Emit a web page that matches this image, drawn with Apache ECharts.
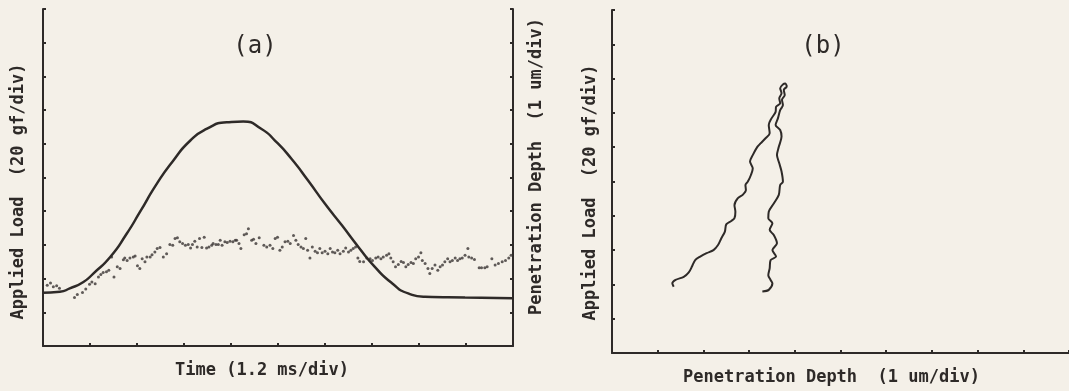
<!DOCTYPE html>
<html>
<head>
<meta charset="UTF-8">
<title>Load and penetration traces</title>
<script src="https://cdn.jsdelivr.net/npm/echarts@6/dist/echarts.min.js"></script>
<style>
  * { margin: 0; padding: 0; }
  body { background: #f4f0e8; }
  #chart { width: 1069px; height: 391px; }
</style>
</head>
<body>
<div id="chart"></div>
<script>
// (a) applied load vs time, in divisions
const loadT = [0.0, 0.36, 0.57, 0.86, 1.07, 1.43, 1.78, 2.06, 2.42, 2.77, 3.13, 3.48, 3.91, 4.26, 4.65, 4.94, 5.29, 5.64, 6.0, 6.36, 6.71, 7.06, 7.42, 7.77, 8.13, 8.98, 10.0];
const loadV = [1.58, 1.61, 1.71, 1.90, 2.15, 2.64, 3.33, 3.97, 4.81, 5.50, 6.09, 6.44, 6.64, 6.66, 6.44, 6.09, 5.55, 4.91, 4.22, 3.58, 2.94, 2.35, 1.87, 1.56, 1.46, 1.44, 1.42];

// (a) penetration depth samples (dots)
const depthT = [0.09, 0.16, 0.22, 0.29, 0.35, 0.67, 0.73, 0.84, 0.91, 0.99, 1.04, 1.11, 1.18, 1.23, 1.28, 1.35, 1.40, 1.46, 1.51, 1.58,
  1.64, 1.71, 1.74, 1.79, 1.85, 1.92, 1.96, 2.01, 2.06, 2.11, 2.17, 2.21, 2.28, 2.32, 2.38, 2.43, 2.49, 2.56, 2.63, 2.70,
  2.76, 2.81, 2.86, 2.91, 2.97, 3.03, 3.09, 3.14, 3.18, 3.23, 3.28, 3.33, 3.38, 3.43, 3.48, 3.53, 3.59, 3.62, 3.68, 3.73,
  3.77, 3.81, 3.87, 3.92, 3.98, 4.04, 4.09, 4.12, 4.17, 4.21, 4.28, 4.33, 4.37, 4.44, 4.48, 4.53, 4.60, 4.70, 4.76, 4.83,
  4.89, 4.94, 4.99, 5.04, 5.09, 5.15, 5.21, 5.26, 5.33, 5.38, 5.43, 5.49, 5.54, 5.59, 5.63, 5.68, 5.73, 5.79, 5.84, 5.89,
  5.94, 6.00, 6.06, 6.11, 6.16, 6.21, 6.27, 6.32, 6.39, 6.44, 6.50, 6.55, 6.60, 6.65, 6.70, 6.74, 6.82, 6.89, 6.96, 7.01,
  7.08, 7.13, 7.19, 7.24, 7.31, 7.36, 7.40, 7.45, 7.50, 7.56, 7.62, 7.67, 7.72, 7.77, 7.83, 7.88, 7.93, 7.99, 8.04, 8.07,
  8.13, 8.19, 8.23, 8.28, 8.34, 8.40, 8.45, 8.50, 8.55, 8.61, 8.66, 8.71, 8.77, 8.82, 8.87, 8.92, 8.98, 9.04, 9.06, 9.12,
  9.18, 9.28, 9.33, 9.40, 9.45, 9.55, 9.62, 9.69, 9.77, 9.84, 9.91, 9.96];
const depthV = [1.80, 1.87, 1.76, 1.79, 1.71, 1.44, 1.53, 1.59, 1.69, 1.83, 1.90, 1.85, 2.05, 2.12, 2.18, 2.20, 2.25, 2.64, 2.05, 2.35,
  2.30, 2.56, 2.61, 2.54, 2.61, 2.64, 2.67, 2.38, 2.30, 2.59, 2.50, 2.64, 2.64, 2.71, 2.79, 2.89, 2.92, 2.64, 2.74, 3.01,
  2.99, 3.19, 3.21, 3.09, 3.04, 2.99, 3.01, 2.91, 3.01, 3.11, 2.94, 3.19, 2.92, 3.23, 2.91, 2.94, 2.99, 3.04, 3.01, 3.01,
  3.14, 2.99, 3.09, 3.07, 3.11, 3.09, 3.14, 3.14, 3.04, 2.89, 3.30, 3.33, 3.48, 3.14, 3.17, 3.04, 3.21, 2.99, 2.94, 2.99,
  2.89, 3.19, 3.23, 2.84, 2.94, 3.09, 3.11, 3.04, 3.28, 3.14, 3.01, 2.94, 2.89, 3.19, 2.84, 2.61, 2.94, 2.81, 2.77, 2.89,
  2.77, 2.81, 2.74, 2.89, 2.79, 2.77, 2.84, 2.74, 2.81, 2.91, 2.79, 2.84, 2.89, 2.94, 2.61, 2.51, 2.50, 2.61, 2.59, 2.54,
  2.61, 2.64, 2.59, 2.64, 2.69, 2.74, 2.61, 2.50, 2.35, 2.42, 2.51, 2.48, 2.35, 2.42, 2.48, 2.45, 2.59, 2.64, 2.77, 2.54,
  2.45, 2.30, 2.15, 2.30, 2.40, 2.25, 2.35, 2.40, 2.50, 2.59, 2.50, 2.54, 2.61, 2.54, 2.59, 2.61, 2.69, 2.89, 2.64, 2.61,
  2.57, 2.32, 2.32, 2.32, 2.35, 2.59, 2.40, 2.45, 2.50, 2.54, 2.61, 2.69];

// (b) load vs penetration depth, in divisions
const loadingX = [1.35, 1.32, 1.39, 1.57, 1.68, 1.75, 1.82, 1.93, 2.07, 2.22, 2.32, 2.39, 2.47, 2.50, 2.61, 2.68, 2.70, 2.68, 2.75, 2.86,
  2.93, 2.92, 2.97, 3.04, 3.08, 3.02, 3.08, 3.18, 3.25, 3.36, 3.45, 3.43, 3.49, 3.58, 3.59, 3.68, 3.66, 3.71, 3.68, 3.74, 3.79, 3.83];
const loadingY = [1.93, 2.03, 2.13, 2.22, 2.35, 2.52, 2.71, 2.81, 2.91, 3.00, 3.15, 3.34, 3.54, 3.75, 3.85, 3.93, 4.12, 4.31, 4.51, 4.61,
  4.75, 4.90, 4.99, 5.19, 5.38, 5.58, 5.77, 6.01, 6.11, 6.26, 6.41, 6.65, 6.84, 7.03, 7.18, 7.28, 7.43, 7.57, 7.72, 7.83, 7.86, 7.76];
const unloadX = [3.83, 3.76, 3.78, 3.72, 3.74, 3.68, 3.63, 3.58, 3.68, 3.71, 3.65, 3.61, 3.66, 3.71, 3.74, 3.68, 3.65, 3.54, 3.43, 3.42,
  3.51, 3.45, 3.54, 3.61, 3.51, 3.59, 3.47, 3.45, 3.42, 3.47, 3.51, 3.43, 3.29];
const unloadY = [7.76, 7.67, 7.52, 7.38, 7.23, 7.08, 6.84, 6.65, 6.50, 6.31, 6.01, 5.77, 5.53, 5.29, 4.99, 4.90, 4.61, 4.36, 4.12, 3.93,
  3.78, 3.59, 3.44, 3.20, 3.00, 2.81, 2.71, 2.47, 2.27, 2.13, 2.03, 1.84, 1.79];

const ink = '#2e2a28';
const pairs = (xs, ys) => xs.map((x, i) => [x, ys[i]]);
const nameFont = { fontFamily: 'DejaVu Sans Mono', fontWeight: 'bold', fontSize: 17, color: ink };

function axis(extra) {
  return Object.assign({
    type: 'value', min: 0, max: 10, interval: 1,
    axisLine: { show: true, onZero: false, lineStyle: { color: ink, width: 2 } },
    axisTick: { show: true, inside: true, length: 3, lineStyle: { color: ink, width: 2 } },
    axisLabel: { show: false },
    splitLine: { show: false },
    nameLocation: 'middle'
  }, extra);
}

const chart = echarts.init(document.getElementById('chart'));
chart.setOption({
  animation: false,
  backgroundColor: '#f4f0e8',
  title: [
    { text: '(a)', left: 250, top: 30, textAlign: 'center',
      textStyle: { fontFamily: 'DejaVu Sans Mono', fontWeight: 'normal', fontSize: 24, color: ink } },
    { text: '(b)', left: 818, top: 30, textAlign: 'center',
      textStyle: { fontFamily: 'DejaVu Sans Mono', fontWeight: 'normal', fontSize: 24, color: ink } }
  ],
  grid: [
    { left: 43, top: 9, right: 556, bottom: 45 },
    { left: 612, top: 10, right: -8, bottom: 38 }
  ],
  xAxis: [
    axis({ gridIndex: 0, name: 'Time (1.2 ms/div)', nameGap: 16,
      nameTextStyle: Object.assign({ padding: [0, 32, 0, 0] }, nameFont) }),
    axis({ gridIndex: 1, name: 'Penetration Depth  (1 um/div)', nameGap: 16,
      nameTextStyle: Object.assign({ padding: [0, 18, 0, 0] }, nameFont) })
  ],
  yAxis: [
    axis({ gridIndex: 0, name: 'Applied Load  (20 gf/div)', nameGap: 16, nameRotate: 90,
      nameTextStyle: Object.assign({ padding: [0, 28, 0, 0] }, nameFont) }),
    axis({ gridIndex: 0, position: 'right', name: 'Penetration Depth  (1 um/div)', nameGap: 15, nameRotate: 90,
      nameTextStyle: Object.assign({ padding: [0, 0, 0, 22] }, nameFont) }),
    axis({ gridIndex: 1, name: 'Applied Load  (20 gf/div)', nameGap: 13, nameRotate: 90,
      nameTextStyle: Object.assign({ padding: [0, 22, 0, 0] }, nameFont) })
  ],
  series: [
    { type: 'line', xAxisIndex: 0, yAxisIndex: 0, data: pairs(loadT, loadV), smooth: 0.6,
      showSymbol: false, lineStyle: { color: ink, width: 2.5 } },
    { type: 'scatter', xAxisIndex: 0, yAxisIndex: 1, data: pairs(depthT, depthV),
      symbolSize: 3, itemStyle: { color: '#3a3533' } },
    { type: 'line', xAxisIndex: 1, yAxisIndex: 2, data: pairs(loadingX, loadingY), smooth: 0.3,
      showSymbol: false, lineStyle: { color: ink, width: 2 } },
    { type: 'line', xAxisIndex: 1, yAxisIndex: 2, data: pairs(unloadX, unloadY), smooth: 0.3,
      showSymbol: false, lineStyle: { color: ink, width: 2 } }
  ]
});
</script>
</body>
</html>
